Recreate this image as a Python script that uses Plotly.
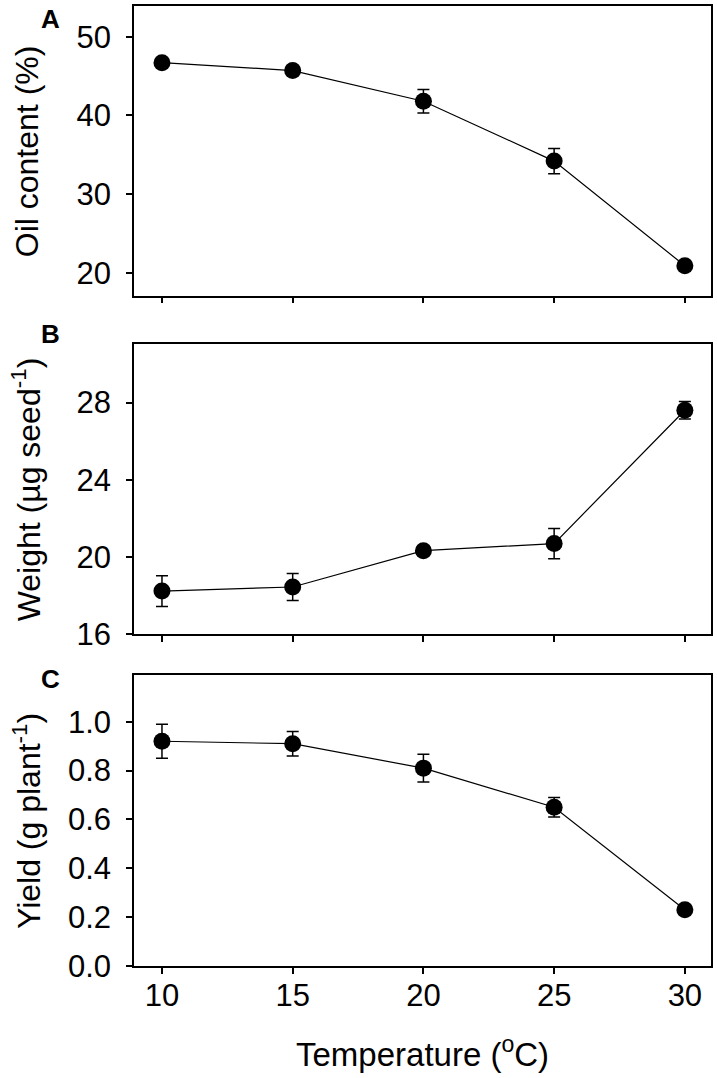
import plotly.graph_objects as go
from plotly.subplots import make_subplots

temperature = [10, 15, 20, 25, 30]
oil_content = [46.7, 45.7, 41.8, 34.2, 20.9]
oil_err = [0.4, 0.6, 1.5, 1.6, 0.6]
seed_weight = [18.24, 18.45, 20.33, 20.7, 27.6]
weight_err = [0.8, 0.7, 0.2, 0.78, 0.45]
seed_yield = [0.92, 0.91, 0.81, 0.65, 0.23]
yield_err = [0.07, 0.05, 0.057, 0.04, 0.02]
x_ticks = [10, 15, 20, 25, 30]

FONT = "Liberation Sans, Arial, sans-serif"
W, H = 717, 1078
ml, mr, mt, mb = 134, 4, 5, 112
plot_h = H - mt - mb

def frac(ypx):
    return (H - mb - ypx) / plot_h

fig = make_subplots(rows=3, cols=1, shared_xaxes=False, vertical_spacing=0.05)

series = [
    (oil_content, oil_err, 1),
    (seed_weight, weight_err, 2),
    (seed_yield, yield_err, 3),
]
for vals, errs, row in series:
    fig.add_trace(
        go.Scatter(
            x=temperature, y=vals, mode="lines+markers",
            line=dict(color="black", width=1.2),
            marker=dict(color="black", size=17, symbol="circle"),
            error_y=dict(type="data", array=errs, visible=True,
                         color="black", thickness=1.5, width=6),
            showlegend=False,
        ),
        row=row, col=1,
    )

domains = [
    [frac(295), frac(5)],
    [frac(634), frac(343)],
    [frac(966), frac(675)],
]
yranges = [[17.1, 53.9], [16, 31.05], [0, 1.19]]
ytickvals = [[20, 30, 40, 50], [16, 20, 24, 28], [0, 0.2, 0.4, 0.6, 0.8, 1.0]]
yticktext = [["20", "30", "40", "50"], ["16", "20", "24", "28"],
             ["0.0", "0.2", "0.4", "0.6", "0.8", "1.0"]]

axis_common = dict(
    showline=True, linecolor="black", linewidth=1.5, mirror=True,
    ticks="outside", ticklen=6, tickwidth=1.5, tickcolor="black",
    showgrid=False, zeroline=False,
    tickfont=dict(family=FONT, size=31, color="black"),
)

for i in range(3):
    xa = "xaxis" if i == 0 else f"xaxis{i+1}"
    ya = "yaxis" if i == 0 else f"yaxis{i+1}"
    fig.layout[ya].update(
        domain=domains[i], range=yranges[i], tickvals=ytickvals[i],
        ticktext=yticktext[i], ticklabelstandoff=9, **axis_common,
    )
    fig.layout[xa].update(
        range=[8.93, 31.0], tickvals=x_ticks, showticklabels=(i == 2),
        ticklabelstandoff=-5, **axis_common,
    )

y_titles = ["Oil content (%)", "Weight (µg seed<sup>-1</sup>)",
            "Yield (g plant<sup>-1</sup>)"]
for i, t in enumerate(y_titles):
    d = domains[i]
    fig.add_annotation(
        text=t, textangle=-90, xref="paper", yref="paper",
        x=(26 - ml) / (W - ml - mr), y=(d[0] + d[1]) / 2,
        xanchor="center", yanchor="middle", showarrow=False,
        font=dict(family=FONT, size=32, color="black"),
    )

panel_labels = [("A", 18), ("B", 333), ("C", 679)]
for lab, ypx in panel_labels:
    fig.add_annotation(
        text=f"<b>{lab}</b>", xref="paper", yref="paper",
        x=(50 - ml) / (W - ml - mr), y=frac(ypx),
        xanchor="center", yanchor="middle", showarrow=False,
        font=dict(family=FONT, size=26, color="black"),
    )

fig.add_annotation(
    text="Temperature (<sup>o</sup>C)", xref="paper", yref="paper",
    x=0.5, y=frac(1052), xanchor="center", yanchor="middle", showarrow=False,
    font=dict(family=FONT, size=33, color="black"),
)

fig.update_layout(
    width=W, height=H,
    margin=dict(l=ml, r=mr, t=mt, b=mb),
    paper_bgcolor="white", plot_bgcolor="white",
)

fig.write_html("out.html", config={"displayModeBar": False},
               post_script="document.body.style.margin='0px';")
